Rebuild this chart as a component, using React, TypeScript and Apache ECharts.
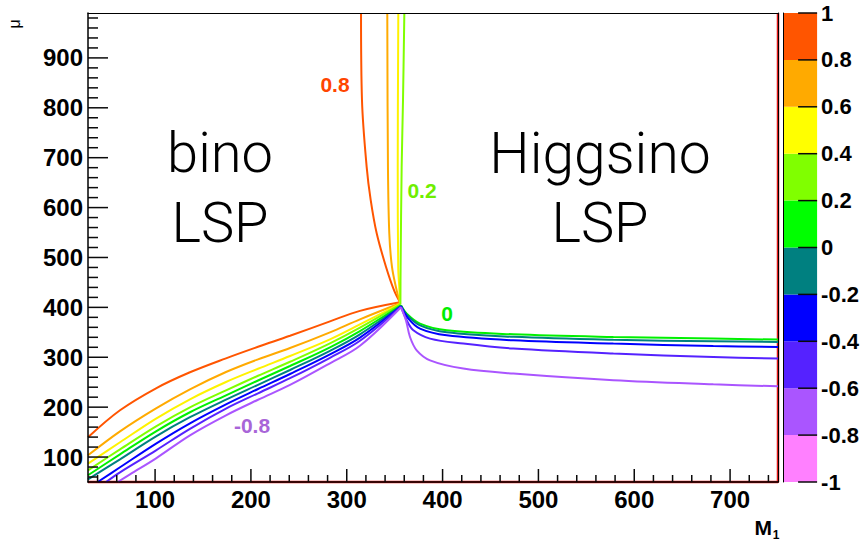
import React, { useEffect, useRef } from "react";
import * as echarts from "echarts";

// ---- axis ranges ----
const X_MIN = 30;
const X_MAX = 750;
const Y_MIN = 50;
const Y_MAX = 990;

// ---- axis ticks / labels ----
const xMajorTicks = [100, 200, 300, 400, 500, 600, 700];
const xMinorTicks = [40, 60, 80, 120, 140, 160, 180, 220, 240, 260, 280, 320, 340, 360, 380, 420, 440, 460, 480, 520, 540, 560, 580, 620, 640, 660, 680, 720, 740];
const yMajorTicks = [100, 200, 300, 400, 500, 600, 700, 800, 900];
const yMinorTicks = [60, 80, 120, 140, 160, 180, 220, 240, 260, 280, 320, 340, 360, 380, 420, 440, 460, 480, 520, 540, 560, 580, 620, 640, 660, 680, 720, 740, 760, 780, 820, 840, 860, 880, 920, 940, 960, 980];
const colorbarTicks = [-1, -0.8, -0.6, -0.4, -0.2, 0, 0.2, 0.4, 0.6, 0.8, 1];

// ---- colour bar bands (from -1 upward) ----
const bandLow = [-1, -0.8, -0.6, -0.4, -0.2, 0, 0.2, 0.4, 0.6, 0.8];
const bandHigh = [-0.8, -0.6, -0.4, -0.2, 0, 0.2, 0.4, 0.6, 0.8, 1];
const bandColors = ["#FF80FF", "#AA55FF", "#5522FF", "#0000FF", "#008080", "#00FF00", "#80FF00", "#FFFF00", "#FFAA00", "#FF5500"];

// ---- contour levels ----
const levels = ["0.8", "0.6", "0.4", "0.2", "0", "-0.2", "-0.4", "-0.6", "-0.8"];
const levelColors = ["#FF5500", "#FFAA00", "#FFF200", "#80FF00", "#00F000", "#008080", "#0000FF", "#5522FF", "#AA55FF"];

// lower-left (bino side) branches, from the plot edge to the crossing point
const left08 = [[30, 139.6], [63.4, 193.7], [101, 237.8], [136.4, 269.9], [174, 297.9], [207.4, 321], [240.8, 343], [282.5, 372], [313.8, 393], [355.6, 410.2]];
const left06 = [[30, 103.5], [63.4, 151.6], [101, 197.7], [136.4, 235.8], [174, 270.5], [207.4, 295.9], [240.8, 318.5], [282.5, 350], [313.8, 376], [355.6, 408.2]];
const left04 = [[30, 86.9], [63.4, 129.6], [101, 177.1], [136.4, 215.8], [174, 250.4], [207.4, 276.9], [240.8, 302.5], [282.5, 336], [313.8, 366], [355.6, 407.2]];
const left02 = [[30, 73.4], [63.4, 115.5], [101, 161.7], [136.4, 199.7], [174, 233.8], [207.4, 262.9], [240.8, 291], [282.5, 328], [313.8, 359.5], [356, 406.2]];
const left00 = [[30, 63.5], [63.4, 105.5], [101, 151.6], [136.4, 189.8], [174, 223.8], [207.4, 253.4], [240.8, 282.5], [282.5, 320], [313.8, 352.5], [356.6, 404.2]];
const leftM02 = [[30, 55.4], [63.4, 95.5], [101, 141.6], [136.4, 179.8], [174, 215.2], [207.4, 244.8], [240.8, 274.5], [282.5, 313], [313.8, 346], [356.6, 403.2]];
const leftM04 = [[40.1, 50], [63.4, 79.5], [101, 127], [136.4, 167.7], [174, 205.7], [207.4, 236.4], [240.8, 266.5], [282.5, 306], [313.8, 339.5], [356.6, 402.2]];
const leftM06 = [[48.8, 50], [63.4, 69.4], [101, 113.5], [136.4, 156.6], [174, 197.1], [207.4, 227.8], [240.8, 258], [282.5, 299], [313.8, 333], [356.6, 401.2]];
const leftM08 = [[61, 50], [73.8, 65.4], [101, 97.5], [136.4, 143.6], [174, 183.7], [207.4, 214.8], [240.8, 244.5], [282.5, 288], [313.8, 323], [356.6, 400.2]];

// upward branches (positive levels), from the crossing point to the top
const up08 = [[355.6, 410.2], [349.4, 434], [341, 481], [331.3, 548], [325, 615], [320.8, 681], [315.9, 815], [314.9, 990]];
const up06 = [[355.6, 408.2], [352.1, 434], [347.2, 481], [344.4, 548], [343, 681], [342.3, 990]];
const up04 = [[355.6, 407.2], [355, 434], [353.7, 481], [353.2, 681], [353.8, 990]];
const up02 = [[356, 406.2], [356.2, 481], [357.3, 681], [358.7, 815], [360.1, 990]];

// rightward branches (zero and negative levels)
const right00 = [[356.6, 404.2], [362.6, 387.5], [376.4, 367.5], [404.3, 354], [473.8, 346], [578.2, 340.7], [682.5, 337.5], [750, 335.4]];
const rightM02 = [[356.6, 403.2], [362.6, 385], [376.4, 364], [404.3, 350], [473.8, 341], [578.2, 335], [682.5, 332], [750, 330.6]];
const rightM04 = [[356.6, 402.2], [364.3, 377.5], [376.4, 357.5], [404.3, 344], [473.8, 334], [578.2, 327.4], [682.5, 322.6], [750, 320.6]];
const rightM06 = [[356.6, 401.2], [362.6, 374], [369.5, 354], [386.9, 337.4], [421.6, 327.4], [473.8, 317.4], [578.2, 307.4], [682.5, 300.6], [750, 297.3]];
const rightM08 = [[356.6, 400.2], [361.8, 374], [366, 340.6], [373, 313.9], [386.9, 293.9], [421.6, 277.3], [473.8, 267.3], [578.2, 253.9], [682.5, 245.8], [750, 241.8]];

const leftBranches = [left08, left06, left04, left02, left00, leftM02, leftM04, leftM06, leftM08];
const otherBranches = [up08, up06, up04, up02, right00, rightM02, rightM04, rightM06, rightM08];

// boundary contour along the bottom and right edges
const boundary = [[30, 50], [750, 50], [750, 990]];

const NUM_FONT = "'Liberation Sans', Arial, Helvetica, sans-serif";
const THIN_FONT = "Roboto, Lato, 'Open Sans', 'Liberation Sans', sans-serif";

const GRID_W = 690;
const GRID_H = 469;

function txt(x: number, y: number, text: string, fill: string, font: string, align = "center", extra: any = {}) {
  return {
    type: "text", x, y, z: 20, silent: true, ...extra,
    style: { text, fill, font, textAlign: align, textVerticalAlign: "middle", align, verticalAlign: "middle" },
  };
}

export default function App() {
  const ref = useRef<HTMLDivElement>(null);
  useEffect(() => {
    if (!ref.current) return;
    const chart = echarts.init(ref.current, null, { renderer: "svg" });
    const black = { color: "#000", width: 1.5 };
    const none = { show: false };

    const contourSeries: any[] = [];
    levels.forEach((lv, i) => {
      [leftBranches[i], otherBranches[i]].forEach((d, j) => {
        contourSeries.push({
          type: "line",
          name: lv + (j === 0 ? "a" : "b"),
          xAxisIndex: 0,
          yAxisIndex: 0,
          data: d,
          symbol: "none",
          showSymbol: false,
          smooth: 0.35,
          silent: true,
          z: 3,
          lineStyle: { color: levelColors[i], width: 2 },
        });
      });
    });

    const labels = [
      txt(220, 153, "bino", "#000", `300 56px ${THIN_FONT}`),
      txt(220, 223, "LSP", "#000", `300 56px ${THIN_FONT}`),
      txt(600, 153, "Higgsino", "#000", `300 57px ${THIN_FONT}`),
      txt(600, 223, "LSP", "#000", `300 56px ${THIN_FONT}`),
      txt(335, 84, "0.8", "#FF4500", `bold 21px ${NUM_FONT}`),
      txt(422, 190, "0.2", "#6FEE00", `bold 21px ${NUM_FONT}`),
      txt(447, 313, "0", "#00EE00", `bold 21px ${NUM_FONT}`),
      txt(252, 425, "-0.8", "#A865D8", `bold 21px ${NUM_FONT}`),
      txt(14, 24, "μ", "#000", `16px ${NUM_FONT}`, "center", { rotation: Math.PI / 2 }),
      txt(772, 527, "M", "#000", `bold 21px ${NUM_FONT}`, "right"),
      txt(776, 535, "1", "#000", `bold 12px ${NUM_FONT}`),
    ];

    const option: any = {
      animation: false,
      backgroundColor: "#fff",
      grid: [
        { left: 88, top: 13, width: GRID_W, height: GRID_H, show: false },
        { left: 783, top: 13, width: 39, height: GRID_H, show: false },
      ],
      xAxis: [
        {
          gridIndex: 0, type: "value", min: X_MIN, max: X_MAX, position: "bottom", z: 10,
          axisLine: { show: true, lineStyle: black },
          axisTick: none,
          axisLabel: { show: true, customValues: xMajorTicks, fontFamily: NUM_FONT, fontWeight: "bold", fontSize: 24, color: "#000", margin: 5 },
          splitLine: none,
        },
        { gridIndex: 1, type: "value", min: 0, max: 1, show: false, splitLine: none },
        {
          gridIndex: 0, type: "value", min: X_MIN, max: X_MAX, position: "top", z: 10,
          axisLine: { show: true, lineStyle: { color: "#000", width: 1 } },
          axisTick: none, axisLabel: none, splitLine: none,
        },
      ],
      yAxis: [
        {
          gridIndex: 0, type: "value", min: Y_MIN, max: Y_MAX, position: "left", z: 10,
          axisLine: { show: true, lineStyle: black },
          axisTick: none,
          axisLabel: { show: true, customValues: yMajorTicks, fontFamily: NUM_FONT, fontWeight: "bold", fontSize: 24, color: "#000", margin: 5 },
          splitLine: none,
        },
        {
          gridIndex: 1, type: "value", min: -1, max: 1, position: "right", z: 10,
          axisLine: { show: true, lineStyle: { color: "#000", width: 1 } },
          axisTick: none,
          axisLabel: {
            show: true, customValues: colorbarTicks, fontFamily: NUM_FONT, fontWeight: "bold", fontSize: 22, color: "#000", margin: 4,
            formatter: (v: number) => String(Math.round(v * 10) / 10),
          },
          splitLine: none,
        },
        {
          gridIndex: 0, type: "value", min: Y_MIN, max: Y_MAX, position: "right", z: 10,
          axisLine: { show: true, lineStyle: { color: "#000", width: 1 } },
          axisTick: none, axisLabel: none, splitLine: none,
        },
      ],
      series: [
        {
          type: "line", xAxisIndex: 0, yAxisIndex: 0, data: boundary, symbol: "none", silent: true, z: 1, clip: false,
          lineStyle: { color: "#E41A1A", width: 2.5 },
        },
        {
          type: "custom", xAxisIndex: 1, yAxisIndex: 1, silent: true, z: 1,
          data: bandLow.map((lo, i) => [0, lo, 1, bandHigh[i]]),
          encode: { x: [0, 2], y: [1, 3] },
          renderItem: (params: any, api: any) => {
            const pTL = api.coord([api.value(0), api.value(3)]);
            const pBR = api.coord([api.value(2), api.value(1)]);
            return {
              type: "rect",
              shape: { x: pTL[0], y: pTL[1], width: pBR[0] - pTL[0], height: pBR[1] - pTL[1] },
              style: { fill: bandColors[params.dataIndex] },
            };
          },
        },
        ...contourSeries,
      ],
      graphic: labels,
    };
    chart.setOption(option);

    // inward ticks: positions taken from the axes' own scales
    const main = { xAxisIndex: 0, yAxisIndex: 0 };
    const cb = { xAxisIndex: 1, yAxisIndex: 1 };
    const tickRects: any[] = [];
    const addX = (v: number, len: number) => {
      const p = chart.convertToPixel(main as any, [v, Y_MIN]) as number[];
      tickRects.push({ type: "rect", z: 15, silent: true, shape: { x: p[0] - 0.75, y: p[1] - len, width: 1.5, height: len }, style: { fill: "#0a0a0a" } });
    };
    const addY = (v: number, len: number) => {
      const p = chart.convertToPixel(main as any, [X_MIN, v]) as number[];
      tickRects.push({ type: "rect", z: 15, silent: true, shape: { x: p[0], y: p[1] - 0.75, width: len, height: 1.5 }, style: { fill: "#0a0a0a" } });
    };
    xMajorTicks.forEach((v) => addX(v, 13));
    xMinorTicks.forEach((v) => addX(v, 7));
    yMajorTicks.forEach((v) => addY(v, 20));
    yMinorTicks.forEach((v) => addY(v, 10));
    colorbarTicks.forEach((v) => {
      const p = chart.convertToPixel(cb as any, [1, v]) as number[];
      tickRects.push({ type: "rect", z: 15, silent: true, shape: { x: p[0] - 19, y: p[1] - 0.75, width: 19, height: 1.5 }, style: { fill: "#0a0a0a" } });
    });
    chart.setOption({ graphic: [...labels, ...tickRects] });

    return () => chart.dispose();
  }, []);
  return <div ref={ref} style={{ position: "fixed", left: 0, top: 0, width: 862, height: 544 }} />;
}
